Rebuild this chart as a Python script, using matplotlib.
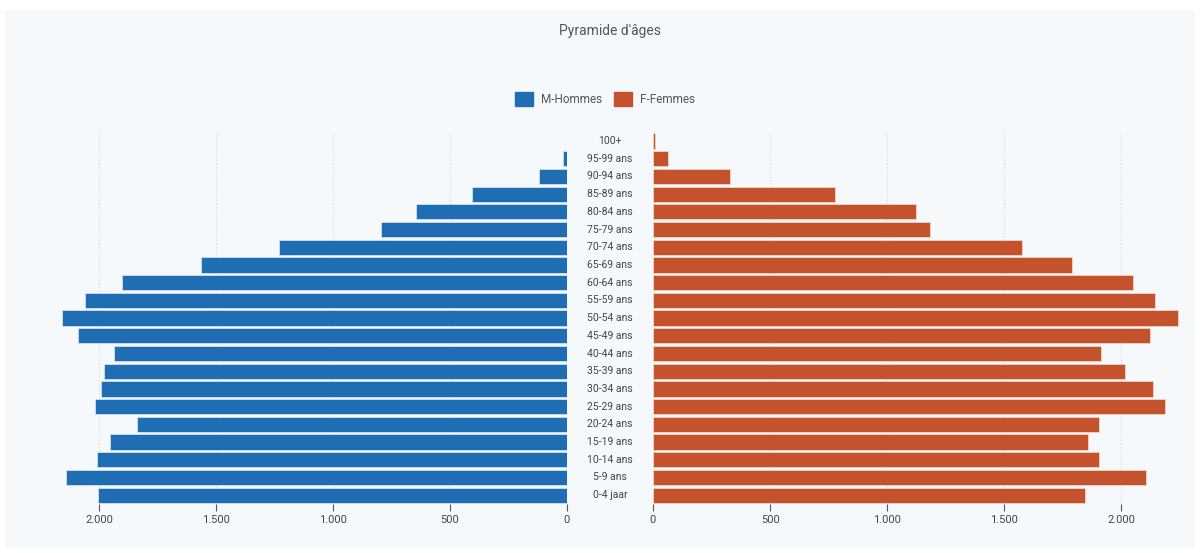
import numpy as np
import matplotlib
matplotlib.use("Agg")
import matplotlib.pyplot as plt
from matplotlib.patches import Rectangle, Patch
from matplotlib.transforms import blended_transform_factory

plt.rcParams['font.family'] = ['Roboto', 'DejaVu Sans']

#=============== data (bottom to top) ===============
age_groups = ["0-4 jaar", "5-9 ans", "10-14 ans", "15-19 ans", "20-24 ans",
              "25-29 ans", "30-34 ans", "35-39 ans", "40-44 ans", "45-49 ans",
              "50-54 ans", "55-59 ans", "60-64 ans", "65-69 ans", "70-74 ans",
              "75-79 ans", "80-84 ans", "85-89 ans", "90-94 ans", "95-99 ans",
              "100+"]
hommes = [2003, 2141, 2008, 1951, 1839, 2017, 1991, 1980, 1938, 2090,
          2158, 2061, 1902, 1563, 1231, 796, 644, 408, 118, 15, 0]
femmes = [1846, 2103, 1906, 1857, 1905, 2187, 2133, 2016, 1911, 2120,
          2240, 2144, 2049, 1788, 1576, 1184, 1123, 775, 330, 66, 7]
tick_vals = [0, 500, 1000, 1500, 2000]
tick_labels = ["0", "500", "1.000", "1.500", "2.000"]

BLUE = "#1f6eb3"
ORANGE = "#c3522d"
PANEL = "#f6f9fc"
TXT = "#555555"

W, H = 1203, 553
fig = plt.figure(figsize=(W / 100, H / 100), dpi=100)
fig.patch.set_facecolor("white")
fig.patches.append(Rectangle((5 / W, 5 / H), 1190 / W, 538 / H,
                             transform=fig.transFigure, facecolor=PANEL,
                             edgecolor="none", zorder=-10))

bottom = 49 / H
height = 371.8 / H
ax_l = fig.add_axes([55 / W, bottom, 512 / W, height])
ax_r = fig.add_axes([653 / W, bottom, 527 / W, height])

y = np.arange(len(age_groups))

ax_l.barh(y, hommes, height=0.86, color=BLUE, edgecolor="#dfe8f2", linewidth=0.5, zorder=3)
ax_r.barh(y, femmes, height=0.86, color=ORANGE, edgecolor="#f3ddd5", linewidth=0.5, zorder=3)

ax_l.set_xlim(2188, 0)
ax_r.set_xlim(0, 2250)

for ax in (ax_l, ax_r):
	ax.set_facecolor(PANEL)
	ax.set_ylim(-0.5, len(age_groups) - 0.5)
	ax.set_yticks([])
	for s in ax.spines.values():
		s.set_visible(False)
	ax.set_xticks(tick_vals)
	ax.set_xticklabels(tick_labels)
	ax.tick_params(axis="x", which="major", length=5, width=0.8, color="#555555",
	               pad=3, labelsize=8, labelcolor="#444444")
	for v in tick_vals[1:]:
		ax.axvline(v, color="#cfd3d7", linestyle=(0, (1, 2)), linewidth=0.8, zorder=1)

#---- age labels in the gap between the two halves ----
trans = blended_transform_factory(fig.transFigure, ax_r.transData)
for yi, lab in zip(y, age_groups):
	fig.text(610 / W, yi, lab, transform=trans, ha="center", va="center",
	         fontsize=7.5, color="#444444")

fig.text(610 / W, 1 - 31 / H, "Pyramide d'âges", ha="center", va="center",
         fontsize=10, color=TXT)

handles = [Patch(facecolor=BLUE, edgecolor=BLUE), Patch(facecolor=ORANGE, edgecolor=ORANGE)]
fig.legend(handles, ["M-Hommes", "F-Femmes"], loc="center", ncol=2,
           bbox_to_anchor=(605 / W, 1 - 99 / H), frameon=False, fontsize=8.5,
           handlelength=1.5, handleheight=1.5, handletextpad=0.7, columnspacing=1.0,
           labelcolor=TXT)

fig.savefig("out.png", dpi=100, facecolor="white")
